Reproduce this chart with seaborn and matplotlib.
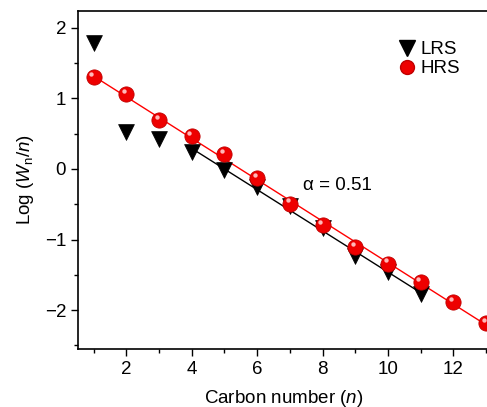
import numpy as np
import pandas as pd
import seaborn as sns
import matplotlib.pyplot as plt
from matplotlib.ticker import MultipleLocator
from matplotlib.lines import Line2D

# data
n_lrs = [1, 2, 3, 4, 5, 6, 7, 8, 9, 10, 11]
log_lrs = [1.78, 0.52, 0.43, 0.24, -0.02, -0.25, -0.52, -0.84, -1.23, -1.46, -1.77]

n_hrs = [1, 2, 3, 4, 5, 6, 7, 8, 9, 10, 11, 12, 13]
log_hrs = [1.30, 1.06, 0.69, 0.46, 0.21, -0.13, -0.49, -0.80, -1.11, -1.34, -1.60, -1.88, -2.18]

df_lrs = pd.DataFrame({'n': n_lrs, 'y': log_lrs})
df_hrs = pd.DataFrame({'n': n_hrs, 'y': log_hrs})

sns.set_style('ticks')
plt.rcParams['font.family'] = ['Liberation Sans', 'DejaVu Sans']
plt.rcParams['mathtext.fontset'] = 'custom'
plt.rcParams['mathtext.rm'] = 'Liberation Sans'
plt.rcParams['mathtext.it'] = 'Liberation Sans:italic'
plt.rcParams['text.color'] = 'black'
plt.rcParams['axes.labelcolor'] = 'black'
plt.rcParams['xtick.color'] = 'black'
plt.rcParams['ytick.color'] = 'black'
plt.rcParams['axes.edgecolor'] = 'black'

fs = 13.5

fig = plt.figure(figsize=(4.87, 4.07), dpi=100)
ax = fig.add_axes([0.160, 0.1425, 0.845, 0.831])

# fit lines
sns.regplot(data=df_hrs, x='n', y='y', ci=None, scatter=False,
            line_kws={'color': 'red', 'lw': 1}, ax=ax)
sns.regplot(data=df_lrs[df_lrs['n'] >= 4], x='n', y='y', ci=None, scatter=False,
            line_kws={'color': 'black', 'lw': 1}, ax=ax)

# points
sns.scatterplot(data=df_lrs, x='n', y='y', marker='v', s=130, color='black',
                edgecolor='black', linewidth=0.5, ax=ax, zorder=3)
sns.scatterplot(data=df_hrs, x='n', y='y', marker='o', s=120, color='#ee0000',
                edgecolor='#c00000', linewidth=0.6, ax=ax, zorder=4)
# small highlight on the spheres
ax.scatter(np.array(n_hrs) - 0.07, np.array(log_hrs) + 0.045, s=10,
           color='#ffb8b8', linewidth=0, zorder=5)

ax.set_xlim(0.52, 13.1)
ax.set_ylim(-2.55, 2.24)
ax.xaxis.set_major_locator(MultipleLocator(2))
ax.xaxis.set_minor_locator(MultipleLocator(1))
ax.yaxis.set_major_locator(MultipleLocator(1))
ax.yaxis.set_minor_locator(MultipleLocator(0.5))
ax.tick_params(which='major', direction='out', length=5, width=1, labelsize=fs)
ax.tick_params(which='minor', direction='out', length=3, width=1)
ax.set_yticks([-2, -1, 0, 1, 2])
ax.set_yticklabels(['\u22122', '\u22121', '0', '1', '2'])

for s in ['left', 'bottom', 'top']:
    ax.spines[s].set_linewidth(1.2)
ax.spines['right'].set_visible(False)

ax.set_xlabel('Carbon number ($\\mathit{n}$)', fontsize=fs, labelpad=7)
ax.set_ylabel('Log ($\\mathit{W}_{\\mathrm{n}}$/$\\mathit{n}$)', fontsize=fs, labelpad=6)

ax.text(7.4, -0.3, '\u03b1 = 0.51', fontsize=fs)

handles = [
    Line2D([], [], marker='v', color='black', linestyle='none', markersize=11),
    Line2D([], [], marker='o', color='#ee0000', markeredgecolor='#c00000',
           linestyle='none', markersize=10),
]
ax.legend(handles, ['LRS', 'HRS'], loc='upper right', bbox_to_anchor=(0.97, 0.96),
          frameon=False, fontsize=fs, handletextpad=0.1, labelspacing=0.1,
          handlelength=1.2)

fig.savefig('out.png', dpi=100)
